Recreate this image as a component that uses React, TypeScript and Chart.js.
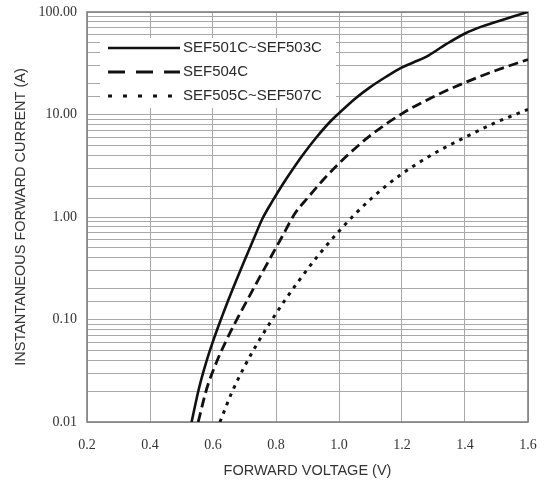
import React, { useEffect, useRef } from "react";
import { Chart, registerables } from "chart.js";

Chart.register(...registerables);

// Forward voltage (V) / current (A) pairs
const seriesNames = ["SEF501C~SEF503C", "SEF504C", "SEF505C~SEF507C"];

const v501 = [0.532, 0.555, 0.578, 0.601, 0.624, 0.649, 0.673, 0.7, 0.73, 0.758, 0.79, 0.823, 0.858, 0.895, 0.93, 0.968, 1.0, 1.05, 1.098, 1.15, 1.194, 1.236, 1.278, 1.34, 1.4, 1.45, 1.5, 1.55, 1.6];
const i501 = [0.01, 0.021, 0.038, 0.0625, 0.098, 0.156, 0.238, 0.377, 0.621, 0.977, 1.45, 2.12, 3.08, 4.43, 6.07, 8.26, 10.3, 14.2, 18.4, 23.4, 28.2, 32.2, 36.7, 48.5, 61.7, 71.6, 80.4, 89.7, 100];

const v504 = [0.553, 0.58, 0.612, 0.643, 0.675, 0.71, 0.744, 0.78, 0.82, 0.86, 0.9, 0.95, 1.0, 1.05, 1.1, 1.2, 1.3, 1.4, 1.5, 1.6];
const i504 = [0.01, 0.0211, 0.0389, 0.0632, 0.099, 0.157, 0.245, 0.389, 0.649, 1.08, 1.53, 2.31, 3.34, 4.64, 6.26, 10.2, 14.9, 20.5, 27.0, 34.4];

const v505 = [0.622, 0.66, 0.7, 0.74, 0.78, 0.825, 0.87, 0.935, 1.0, 1.05, 1.1, 1.15, 1.2, 1.3, 1.4, 1.5, 1.6];
const i505 = [0.01, 0.0195, 0.0348, 0.0579, 0.0918, 0.149, 0.233, 0.425, 0.728, 1.06, 1.49, 2.02, 2.64, 4.14, 5.98, 8.41, 11.2];

const xTickLabels = ["0.2", "0.4", "0.6", "0.8", "1.0", "1.2", "1.4", "1.6"];
const yTickLabels = ["0.01", "0.10", "1.00", "10.00", "100.00"];

const xTitle = "FORWARD VOLTAGE (V)";
const yTitle = "INSTANTANEOUS FORWARD CURRENT (A)";

const toPoints = (xs: number[], ys: number[]) => xs.map((x, k) => ({ x, y: ys[k] }));

const sansFont = "'Liberation Sans', Arial, Helvetica, sans-serif";
const serifFont = "'Liberation Serif', 'Times New Roman', Times, serif";

const dashStyles: number[][] = [[], [10, 5], [3.5, 5.5]];
const legendDash: number[][] = [[], [17, 11], [4, 11]];
const lineWidths = [2.6, 2.8, 3];

const zeroPadding = (s: any) => {
  s.paddingTop = 0;
  s.paddingBottom = 0;
  s.paddingLeft = 0;
  s.paddingRight = 0;
};

const frameAndLegend = {
  id: "frameAndLegend",
  beforeDatasetsDraw(chart: any) {
    const { ctx, chartArea } = chart;
    ctx.save();
    ctx.strokeStyle = "#808080";
    ctx.lineWidth = 1.6;
    ctx.strokeRect(chartArea.left, chartArea.top, chartArea.right - chartArea.left, chartArea.bottom - chartArea.top);
    // legend background box
    const bx = chartArea.left + 13;
    const by = chartArea.top + 26;
    ctx.fillStyle = "#ffffff";
    ctx.fillRect(bx, by, 236, 70);
    ctx.restore();
  },
  afterDatasetsDraw(chart: any) {
    const { ctx, chartArea } = chart;
    const x0 = chartArea.left + 21;
    const x1 = chartArea.left + 93;
    const tx = chartArea.left + 96;
    ctx.save();
    seriesNames.forEach((name, k) => {
      const y = chartArea.top + 36 + k * 24;
      ctx.beginPath();
      ctx.setLineDash(legendDash[k]);
      ctx.strokeStyle = "#111111";
      ctx.lineWidth = k === 0 ? 2.6 : 3;
      ctx.moveTo(x0, y);
      ctx.lineTo(x1, y);
      ctx.stroke();
      ctx.setLineDash([]);
      ctx.fillStyle = "#2a2a2a";
      ctx.font = `15px ${sansFont}`;
      ctx.textBaseline = "middle";
      ctx.textAlign = "left";
      ctx.fillText(name, tx, y);
    });
    ctx.restore();
  },
};

export default function App() {
  const ref = useRef<HTMLCanvasElement | null>(null);

  useEffect(() => {
    if (!ref.current) return;
    const data = [toPoints(v501, i501), toPoints(v504, i504), toPoints(v505, i505)];
    const chart = new Chart(ref.current, {
      type: "line",
      data: {
        datasets: data.map((d, k) => ({
          label: seriesNames[k],
          data: d,
          borderColor: "#111111",
          borderWidth: lineWidths[k],
          borderDash: dashStyles[k],
          pointRadius: 0,
          fill: false,
          cubicInterpolationMode: "monotone" as const,
        })),
      },
      options: {
        responsive: false,
        animation: false,
        layout: { padding: { left: 0, top: 12, right: 18, bottom: 0 } },
        plugins: {
          legend: { display: false },
          tooltip: { enabled: false },
        },
        scales: {
          x: {
            type: "linear",
            min: 0.2,
            max: 1.6,
            ticks: {
              stepSize: 0.2,
              padding: 15,
              color: "#333333",
              font: { family: serifFont, size: 14 },
              callback: (v: any) => {
                const s = Number(v).toFixed(1);
                return xTickLabels.includes(s) ? s : "";
              },
            },
            grid: { color: "#a8a8a8", lineWidth: 1, drawTicks: false },
            border: { display: false },
            title: {
              display: true,
              text: xTitle,
              color: "#333333",
              font: { family: sansFont, size: 14.5 },
              padding: { top: 0, bottom: 2 },
            },
            afterFit: (s: any) => {
              s.height = 60;
              zeroPadding(s);
            },
          },
          y: {
            type: "logarithmic",
            min: 0.01,
            max: 100,
            ticks: {
              autoSkip: false,
              padding: 10,
              color: "#333333",
              font: { family: serifFont, size: 14 },
              callback: (v: any) => {
                const l = Math.log10(Number(v));
                if (Math.abs(l - Math.round(l)) < 1e-6) {
                  const s = Number(v).toFixed(2);
                  return yTickLabels.includes(s) ? s : "";
                }
                return "";
              },
            },
            grid: { color: "#a8a8a8", lineWidth: 1, drawTicks: false },
            border: { display: false },
            title: {
              display: true,
              text: yTitle,
              color: "#333333",
              font: { family: sansFont, size: 14.5 },
              padding: { top: 12, bottom: 0 },
            },
            afterFit: (s: any) => {
              s.width = 87;
              zeroPadding(s);
            },
          },
        },
      },
      plugins: [frameAndLegend],
    } as any);
    return () => chart.destroy();
  }, []);

  return (
    <div style={{ position: "fixed", left: 0, top: 0, width: 546, height: 482, background: "#ffffff" }}>
      <canvas ref={ref} width={546} height={482} style={{ display: "block" }} />
    </div>
  );
}
